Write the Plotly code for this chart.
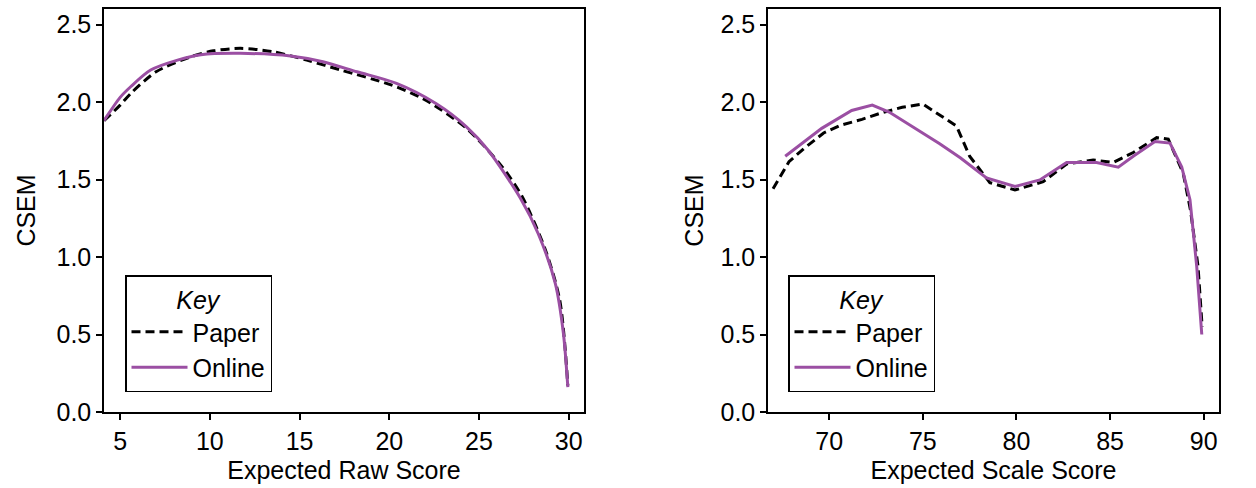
import plotly.graph_objects as go

# Left panel: Expected Raw Score vs CSEM
raw_paper_x = [4.1, 5.0, 5.6, 7.0, 8.9, 10.2, 11.7, 13.5, 15.4, 17.3, 20.1, 21.9, 24.3, 26.3, 27.4, 28.7, 29.5, 29.95]
raw_paper_y = [1.88, 1.98, 2.056, 2.195, 2.29, 2.33, 2.346, 2.325, 2.27, 2.206, 2.11, 2.02, 1.83, 1.58, 1.39, 1.045, 0.72, 0.17]
raw_online_x = [4.1, 5.0, 5.6, 6.7, 8.2, 9.5, 11.7, 14.5, 16.3, 18.2, 20.4, 22.6, 24.3, 25.5, 27.3, 28.3, 29.25, 29.7, 29.95]
raw_online_y = [1.88, 2.03, 2.10, 2.206, 2.27, 2.305, 2.314, 2.297, 2.26, 2.195, 2.12, 1.99, 1.84, 1.69, 1.38, 1.15, 0.83, 0.51, 0.16]

# Right panel: Expected Scale Score vs CSEM
scale_paper_x = [67.0, 67.85, 68.65, 69.7, 70.6, 71.75, 72.8, 73.9, 75.0, 76.8, 77.5, 78.58, 79.92, 81.43, 82.68, 84.1, 85.17, 86.24, 87.49, 88.11, 88.91, 89.3, 89.7, 89.92]
scale_paper_y = [1.44, 1.615, 1.70, 1.80, 1.85, 1.888, 1.93, 1.966, 1.987, 1.845, 1.65, 1.48, 1.432, 1.486, 1.60, 1.626, 1.61, 1.674, 1.77, 1.76, 1.54, 1.30, 0.94, 0.55]
scale_online_x = [67.65, 68.4, 69.6, 71.2, 72.3, 73.2, 74.75, 75.9, 77.0, 78.4, 79.92, 81.25, 82.68, 84.28, 85.44, 86.24, 87.4, 88.2, 88.83, 89.27, 89.63, 89.9]
scale_online_y = [1.65, 1.72, 1.83, 1.945, 1.98, 1.935, 1.82, 1.73, 1.64, 1.51, 1.455, 1.497, 1.61, 1.61, 1.58, 1.65, 1.745, 1.735, 1.58, 1.37, 0.94, 0.50]

series_names = ["Paper", "Online"]
y_ticks = [0.0, 0.5, 1.0, 1.5, 2.0, 2.5]
raw_ticks = [5, 10, 15, 20, 25, 30]
scale_ticks = [70, 75, 80, 85, 90]

PURPLE = "#9B4FA3"
FONT = "Arial, Liberation Sans, sans-serif"
W, H = 1256, 488
ML, MR, MT, MB = 104, 37, 9, 76
inner_w = W - ML - MR

fig = go.Figure()
paper_line = dict(color="black", width=3, dash="9px,5px")
online_line = dict(color=PURPLE, width=3)

fig.add_trace(go.Scatter(x=raw_paper_x, y=raw_paper_y, mode="lines", name=series_names[0],
                         line=dict(shape="spline", smoothing=0.8, **paper_line),
                         xaxis="x", yaxis="y", legend="legend"))
fig.add_trace(go.Scatter(x=raw_online_x, y=raw_online_y, mode="lines", name=series_names[1],
                         line=dict(shape="spline", smoothing=0.8, **online_line),
                         xaxis="x", yaxis="y", legend="legend"))
fig.add_trace(go.Scatter(x=scale_paper_x, y=scale_paper_y, mode="lines", name=series_names[0],
                         line=paper_line, xaxis="x2", yaxis="y2", legend="legend2"))
fig.add_trace(go.Scatter(x=scale_online_x, y=scale_online_y, mode="lines", name=series_names[1],
                         line=online_line, xaxis="x2", yaxis="y2", legend="legend2"))

axis_common = dict(showline=True, linecolor="black", linewidth=1.5, mirror=True,
                   ticks="outside", ticklen=6, tickwidth=1.5, tickcolor="black",
                   showgrid=False, zeroline=False,
                   tickfont=dict(family=FONT, size=25, color="black"),
                   automargin=False)

def dom(px0, px1):
    return [(px0 - ML) / inner_w, (px1 - ML) / inner_w]

legend_common = dict(xanchor="left", yanchor="bottom",
                     bordercolor="black", borderwidth=1.5, bgcolor="white",
                     font=dict(family=FONT, size=25, color="black"),
                     title=dict(text="<i>Key</i>", side="top center", font=dict(family=FONT, size=25)),
                     tracegroupgap=0, itemwidth=56, entrywidth=150, entrywidthmode="pixels")

fig.update_layout(
    template="none",
    width=W, height=H,
    margin=dict(l=ML, r=MR, t=MT, b=MB),
    paper_bgcolor="white", plot_bgcolor="white",
    font=dict(family=FONT, size=25, color="black"),
    xaxis=dict(domain=dom(104, 584), anchor="y", range=[4.1, 30.85], tickvals=raw_ticks,
               title=dict(text="Expected Raw Score", font=dict(size=25), standoff=8), **axis_common),
    yaxis=dict(domain=[0, 1], anchor="x", range=[0, 2.6], tickvals=y_ticks, tickformat=".1f",
               title=dict(text="CSEM", font=dict(size=25), standoff=14), **axis_common),
    xaxis2=dict(domain=dom(768, 1219), anchor="y2", range=[66.73, 90.82], tickvals=scale_ticks,
                title=dict(text="Expected Scale Score", font=dict(size=25), standoff=8), **axis_common),
    yaxis2=dict(domain=[0, 1], anchor="x2", range=[0, 2.6], tickvals=y_ticks, tickformat=".1f",
                title=dict(text="CSEM", font=dict(size=25), standoff=10), **axis_common),
    legend=dict(x=(125 - ML) / inner_w, y=20 / 403, **legend_common),
    legend2=dict(x=(788 - ML) / inner_w, y=20 / 403, **legend_common),
)

fig.write_html("out.html")
